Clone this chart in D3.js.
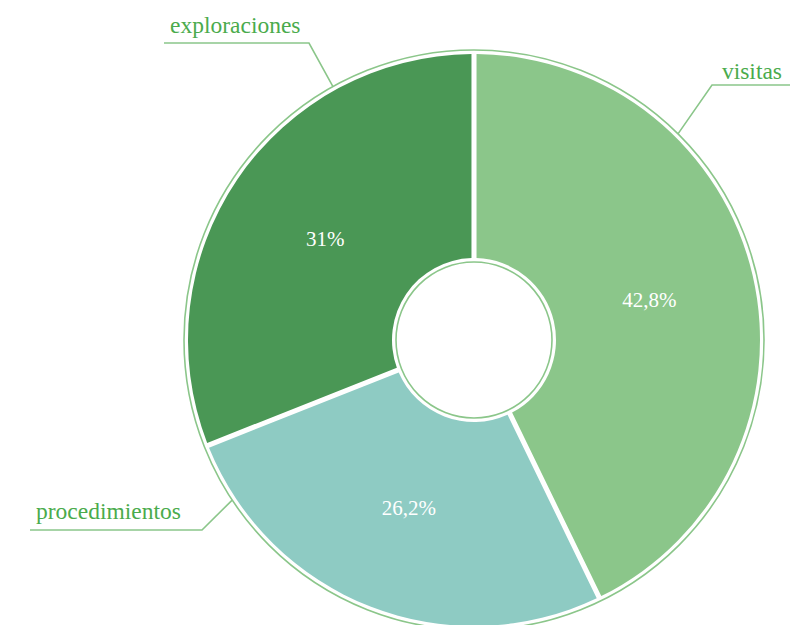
<!DOCTYPE html>
<html>
<head>
<meta charset="utf-8">
<script src="https://cdn.jsdelivr.net/npm/d3@7"></script>
<style>
  body { margin: 0; background: #fff; }
</style>
</head>
<body>
<div id="chart"></div>
<script>
// Data
var categories = ["visitas", "procedimientos", "exploraciones"],
    values = [42.8, 26.2, 31],
    valueLabels = ["42,8%", "26,2%", "31%"],
    colors = ["#8bc68a", "#8ecbc3", "#4a9755"];

// Leader line layout (angle on the ring in degrees, elbow offset from centre, end x offset, text gap)
var leaderAngle = [44.7, 236.5, 330.9],
    leaderElbow = [[238, -255], [-272, 190], [-165, -297]],
    leaderEndX = [316, -444, -310],
    textGap = [6, 11, 10];

var width = 790, height = 625,
    cx = 474, cy = 340,
    outerLine = 290, outerR = 286, innerR = 82, innerLine = 78,
    lineColor = "#8bc68a", textColor = "#4aab4c",
    serif = "Liberation Serif";

var svg = d3.select("#chart").append("svg")
  .attr("width", width)
  .attr("height", height);

var g = svg.append("g").attr("transform", "translate(" + cx + "," + cy + ")");

var pie = d3.pie().sort(null).value(function(d){ return d; });
var arcs = pie(values);

var arc = d3.arc()
  .innerRadius(innerR)
  .outerRadius(outerR)
  .padAngle(0.017);

var labelArc = d3.arc().innerRadius(180).outerRadius(180);

// outer ring outline
g.append("circle")
  .attr("r", outerLine)
  .attr("fill", "none")
  .attr("stroke", lineColor)
  .attr("stroke-width", 1.6);

g.selectAll("path.slice")
  .data(arcs)
  .enter().append("path")
  .attr("class", "slice")
  .attr("d", arc)
  .attr("fill", function(d, i){ return colors[i]; });

// inner hole outline
g.append("circle")
  .attr("r", innerLine)
  .attr("fill", "#fff")
  .attr("stroke", lineColor)
  .attr("stroke-width", 1.6);

// percentage labels
g.selectAll("text.pct")
  .data(arcs)
  .enter().append("text")
  .attr("class", "pct")
  .attr("transform", function(d){ return "translate(" + labelArc.centroid(d) + ")"; })
  .attr("text-anchor", "middle")
  .attr("dy", "0.35em")
  .attr("fill", "#fff")
  .attr("font-family", serif)
  .attr("font-size", 21)
  .text(function(d, i){ return valueLabels[i]; });

// leader lines + category labels
var rad = Math.PI / 180;
categories.forEach(function(name, i){
  var a = leaderAngle[i] * rad,
      sx = outerLine * Math.sin(a),
      sy = -outerLine * Math.cos(a),
      e = leaderElbow[i],
      ex = leaderEndX[i];

  g.append("polyline")
    .attr("points", [[sx, sy], e, [ex, e[1]]].map(function(p){ return p.join(","); }).join(" "))
    .attr("fill", "none")
    .attr("stroke", lineColor)
    .attr("stroke-width", 1.6);

  var right = ex > e[0];
  g.append("text")
    .attr("x", right ? ex - 8 : ex + 6)
    .attr("y", e[1] - textGap[i])
    .attr("text-anchor", right ? "end" : "start")
    .attr("fill", textColor)
    .attr("font-family", serif)
    .attr("font-size", 23.5)
    .text(name);
});
</script>
</body>
</html>
